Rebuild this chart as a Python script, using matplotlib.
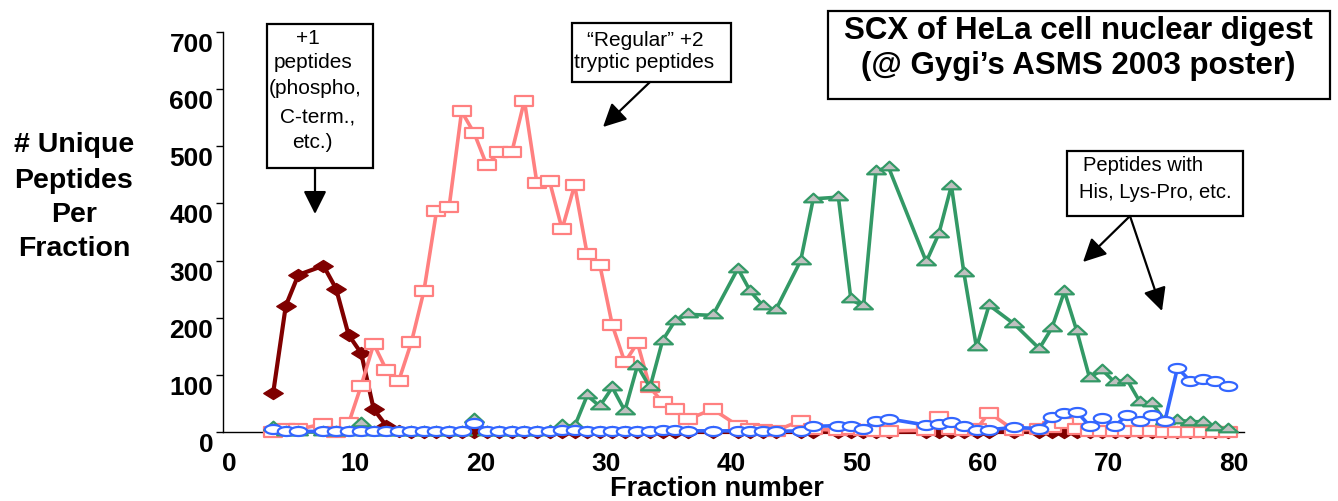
import numpy as np
import matplotlib
matplotlib.use("Agg")
import matplotlib.pyplot as plt
from matplotlib.path import Path
from matplotlib.patches import Rectangle
from matplotlib.transforms import ScaledTranslation

plt.rcParams['font.family'] = ['Liberation Sans', 'DejaVu Sans']

# ---------------- data ----------------
fraction = [3.5, 4.5, 5.5, 7.5, 8.5, 9.5, 10.5, 11.5, 12.5, 13.5, 14.5, 15.5, 16.5,
            17.5, 18.5, 19.5, 20.5, 21.5, 22.5, 23.5, 24.5, 25.5, 26.5, 27.5, 28.5,
            29.5, 30.5, 31.5, 32.5, 33.5, 34.5, 35.5, 36.5, 38.5, 40.5, 41.5, 42.5,
            43.5, 45.5, 46.5, 48.5, 49.5, 50.5, 51.5, 52.5, 55.5, 56.5, 57.5, 58.5,
            59.5, 60.5, 62.5, 64.5, 65.5, 66.5, 67.5, 68.5, 69.5, 70.5, 71.5, 72.5,
            73.5, 74.5, 75.5, 76.5, 77.5, 78.5, 79.5]

plus1 = [69, 221, 275, 291, 251, 170, 138, 40, 11, 2, 0, 0, 0,
         0, 0, 0, 0, 0, 0, 0, 0, 0, 0, 0, 0,
         0, 0, 0, 0, 0, 0, 0, 0, 0, 0, 0, 0,
         0, 0, 0, 0, 0, 0, 0, 0, 0, 0, 0, 0,
         0, 0, 0, 0, 0, 0, 0, 0, 0, 0, 0, 0,
         0, 0, 0, 0, 0, 0, 0]

regular2 = [0, 5, 5, 14, 0, 15, 81, 154, 109, 90, 157, 247, 386,
            393, 561, 523, 467, 490, 490, 580, 435, 439, 355, 432, 311,
            293, 187, 122, 156, 78, 52, 41, 22, 40, 11, 5, 3,
            2, 20, 5, 3, 5, 3, 2, 2, 3, 27, 5, 3,
            5, 34, 3, 5, 8, 15, 5, 2, 2, 2, 2, 2,
            2, 0, 0, 0, 0, 0, 0]

his_lyspro = [8, 0, 0, 0, 0, 0, 15, 0, 0, 0, 0, 0, 0,
              0, 0, 22, 0, 0, 0, 0, 0, 2, 12, 10, 64,
              45, 78, 37, 116, 78, 160, 195, 206, 204, 286, 246, 221,
              213, 300, 408, 411, 232, 220, 457, 463, 298, 347, 431, 278,
              148, 222, 189, 146, 182, 246, 176, 95, 109, 87, 91, 53,
              50, 20, 21, 18, 18, 8, 5]

other = [6, 1, 1, 1, 1, 2, 2, 2, 2, 2, 2, 2, 2,
         2, 2, 16, 2, 2, 2, 2, 2, 2, 3, 4, 2,
         2, 2, 2, 2, 2, 4, 3, 2, 2, 2, 2, 2,
         1, 2, 10, 11, 10, 6, 20, 23, 12, 14, 18, 11,
         4, 4, 8, 6, 26, 33, 35, 11, 24, 10, 30, 20,
         30, 19, 112, 90, 92, 90, 81]

y_ticks = [0, 100, 200, 300, 400, 500, 600, 700]
x_ticks = [0, 10, 20, 30, 40, 50, 60, 70, 80]

# ---------------- figure ----------------
W, H = 1338, 502
fig = plt.figure(figsize=(W / 100, H / 100), dpi=100)
ax = fig.add_axes([223 / W, 69 / H, 1021 / W, 400 / H])


def shape(kind):
    if kind == 'rect':
        v = [(-1, -0.55), (1, -0.55), (1, 0.55), (-1, 0.55), (-1, -0.55)]
    elif kind == 'diamond':
        v = [(-1, 0), (0, 0.62), (1, 0), (0, -0.62), (-1, 0)]
    elif kind == 'tri':
        v = [(-1, -0.3), (1, -0.3), (0, 0.62), (-1, -0.3)]
    else:
        t = np.linspace(0, 2 * np.pi, 60)
        v = list(zip(np.cos(t), 0.52 * np.sin(t)))
    return Path(v, closed=True)


ax.plot(fraction, plus1, color='#800000', lw=3.0, marker=shape('diamond'),
        ms=14, mfc='#800000', mec='#800000', mew=1, clip_on=False, zorder=3)
ax.plot(fraction, regular2, color='#FF8080', lw=2.6, marker=shape('rect'),
        ms=13, mfc='white', mec='#FF8080', mew=1.6, clip_on=False, zorder=4)
ax.plot(fraction, his_lyspro, color='#339966', lw=2.6, marker=shape('tri'),
        ms=13.5, mfc='#C0C0C0', mec='#339966', mew=1.6, clip_on=False, zorder=5)
ax.plot(fraction, other, color='#3366FF', lw=2.6, marker=shape('ellipse'),
        ms=12.5, mfc='white', mec='#3366FF', mew=1.6, clip_on=False, zorder=6)

ax.set_xlim(-0.5, 80.8)
ax.set_ylim(0, 700)
ax.set_xticks(x_ticks)
ax.set_yticks(y_ticks)
for s in ['top', 'right']:
    ax.spines[s].set_visible(False)
ax.spines['left'].set_linewidth(1.0)
ax.spines['bottom'].set_linewidth(1.0)
ax.tick_params(axis='y', direction='out', length=5, width=1, pad=2, labelsize=19)
ax.tick_params(axis='x', length=0, pad=14, labelsize=19)
for lbl in ax.get_yticklabels() + ax.get_xticklabels():
    lbl.set_fontweight('bold')
for lbl in ax.get_yticklabels():
    lbl.set_transform(lbl.get_transform() + ScaledTranslation(0, -0.095, fig.dpi_scale_trans))


def fx(x):
    return x / W


def fy(y):
    return 1 - y / H


# axis titles
ylab_lines = ['# Unique', 'Peptides', 'Per', 'Fraction']
ylab_y = [145, 181, 215, 249]
for t, yy in zip(ylab_lines, ylab_y):
    fig.text(fx(74), fy(yy), t, ha='center', va='center', fontsize=20.5, fontweight='bold')
fig.text(fx(717), fy(489), 'Fraction number', ha='center', va='center',
         fontsize=19.5, fontweight='bold')


def box(x0, y0, x1, y1, lw=1.6):
    fig.patches.append(Rectangle((fx(x0), fy(y1)), (x1 - x0) / W, (y1 - y0) / H,
                                 transform=fig.transFigure, fill=False,
                                 edgecolor='black', lw=lw, zorder=10))


def arrow(x0, y0, x1, y1):
    fig.add_artist(plt.Annotation('', xy=(x1, H - y1), xytext=(x0, H - y0),
                                  xycoords='figure pixels', textcoords='figure pixels',
                                  arrowprops=dict(arrowstyle='-|>,head_length=1.0,head_width=0.5',
                                                  mutation_scale=14, lw=1.6, color='black',
                                                  shrinkA=0, shrinkB=0)))


# title box
box(828, 12, 1330, 100)
fig.text(fx(1078), fy(31), 'SCX of HeLa cell nuclear digest', ha='center', va='center',
         fontsize=22.5, fontweight='bold')
fig.text(fx(1078), fy(66), '(@ Gygi\u2019s ASMS 2003 poster)', ha='center', va='center',
         fontsize=22.5, fontweight='bold')

# +1 box
box(267, 25, 373, 169)
for t, xx, yy in zip(['+1', 'peptides', '(phospho,', 'C-term.,', 'etc.)'],
                     [308, 313, 315, 318, 312], [39, 63, 88, 117, 143]):
    fig.text(fx(xx), fy(yy), t, ha='center', va='center', fontsize=15)
arrow(315, 169, 315, 215)

# regular +2 box
box(572, 24, 731, 83)
fig.text(fx(645), fy(40), '\u201cRegular\u201d +2', ha='center', va='center', fontsize=15)
fig.text(fx(644), fy(63), 'tryptic peptides', ha='center', va='center', fontsize=15)
arrow(650, 83, 603, 128)

# His box
box(1067, 152, 1243, 217)
fig.text(fx(1143), fy(166), 'Peptides with', ha='center', va='center', fontsize=14.5)
fig.text(fx(1155), fy(193), 'His, Lys-Pro, etc.', ha='center', va='center', fontsize=14.5)
arrow(1130, 217, 1083, 263)
arrow(1130, 217, 1162, 312)

fig.savefig('out.png', dpi=100)
